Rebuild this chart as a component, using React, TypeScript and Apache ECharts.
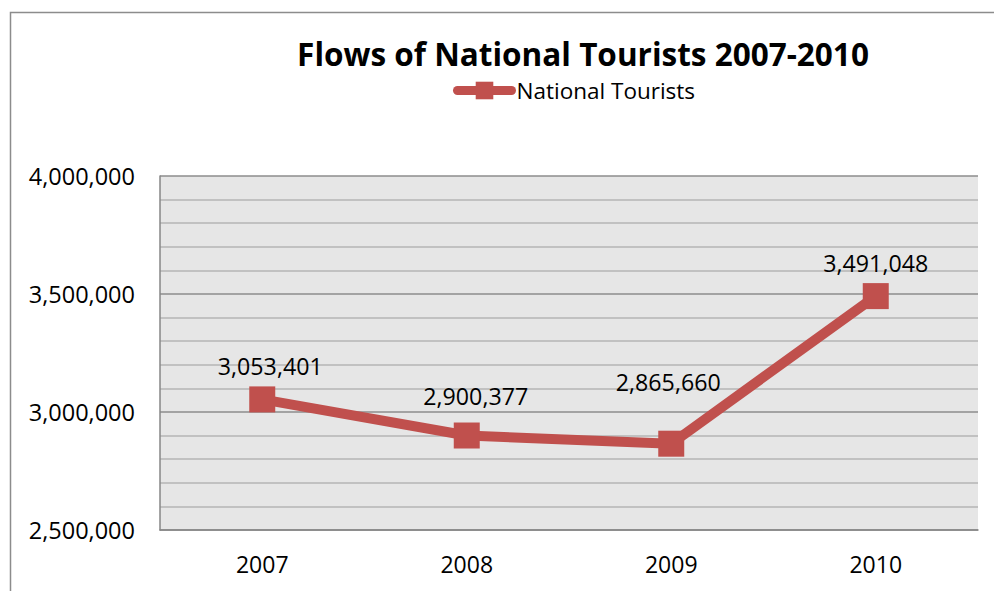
import React, { useEffect, useRef } from "react";
import * as echarts from "echarts";

const categories = ["2007", "2008", "2009", "2010"];
const seriesName = "National Tourists";
const values = [3053401, 2900377, 2865660, 3491048];
const titleText = "Flows of National Tourists 2007-2010";
const yMin = 2500000;
const yMax = 4000000;
const yInterval = 500000;

const FONT = "Open Sans";
const RED = "#c0504d";

export default function App() {
  const ref = useRef<HTMLDivElement>(null);
  useEffect(() => {
    if (!ref.current) return;
    const chart = echarts.init(ref.current, null, { renderer: "svg" });
    const fmt = (v: number) => v.toLocaleString("en-US");
    // label placement tweaks (layout only)
    const labelShift: number[][] = [[8, 0], [9, -6], [-3, -28], [0, 0]];
    chart.setOption({
      animation: false,
      backgroundColor: "#ffffff",
      textStyle: { fontFamily: FONT },
      title: {
        text: titleText,
        left: 578,
        textAlign: "center",
        top: 32,
        textStyle: { fontFamily: FONT, fontWeight: "bold", fontSize: 31.5, color: "#000" },
      },
      legend: {
        left: 448,
        top: 74,
        itemWidth: 54,
        itemHeight: 22,
        itemGap: 0,
        textStyle: { fontFamily: FONT, fontSize: 22.5, color: "#000" },
        lineStyle: { width: 9, cap: "round" },
        data: [seriesName],
      },
      graphic: [
        {
          type: "rect",
          shape: { x: 10.5, y: 12.5, width: 1100, height: 700 },
          style: { fill: "none", stroke: "#8c8c8c", lineWidth: 1.5 },
          z: 10,
        },
      ],
      grid: {
        left: 160,
        top: 176,
        width: 818,
        height: 354,
        show: true,
        backgroundColor: "#e6e6e6",
        borderWidth: 0,
      },
      xAxis: {
        type: "category",
        data: categories,
        boundaryGap: true,
        axisLine: { show: true, lineStyle: { color: "#868686", width: 1.5 } },
        axisTick: { show: false },
        axisLabel: { fontFamily: FONT, fontSize: 23, color: "#000", margin: 22 },
      },
      yAxis: {
        type: "value",
        min: yMin,
        max: yMax,
        interval: yInterval,
        axisLine: { show: true, lineStyle: { color: "#868686", width: 1.5 } },
        axisTick: { show: false },
        axisLabel: { fontFamily: FONT, fontSize: 23.5, color: "#000", margin: 25, formatter: (v: number) => fmt(v) },
        splitLine: { show: true, lineStyle: { color: "#8c8c8c", width: 1.5 } },
        minorTick: { show: false, splitNumber: 5 },
        minorSplitLine: { show: true, lineStyle: { color: "#b4b4b4", width: 1.5 } },
      },
      series: [
        {
          name: seriesName,
          type: "line",
          data: values.map((v, i) => ({
            value: v,
            label: { offset: labelShift[i] },
          })),
          symbol: "rect",
          symbolSize: 26,
          lineStyle: { color: RED, width: 10 },
          itemStyle: { color: RED },
          label: {
            show: true,
            position: "top",
            distance: 9,
            fontFamily: FONT,
            fontSize: 23.2,
            color: "#000",
            formatter: (p: any) => fmt(p.value),
          },
        },
      ],
    });
    return () => chart.dispose();
  }, []);
  return (
    <div
      ref={ref}
      style={{ position: "fixed", left: 0, top: 0, width: 994, height: 591 }}
    />
  );
}
